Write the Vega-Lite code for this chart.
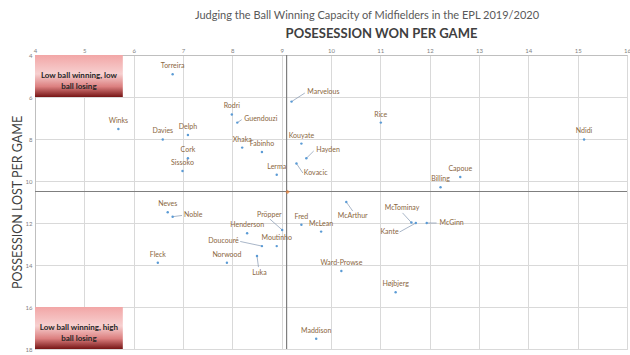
{
  "$schema": "https://vega.github.io/schema/vega-lite/v6.json",
  "autosize": {"type": "none"},
  "width": 592,
  "height": 294,
  "padding": {"left": 35, "top": 55, "right": 3, "bottom": 6},
  "background": "white",
  "title": {"text": "Judging the Ball Winning Capacity of Midfielders in the EPL 2019/2020", "font": "Lato", "fontSize": 11, "fontWeight": "normal", "color": "#595959", "anchor": "middle", "dx": 36, "offset": 6},
  "config": {"view": {"stroke": "#d9d9d9"}, "font": "Lato"},
  "datasets": {
    "players": [
      {"name": "Torreira", "won": 6.79, "lost": 4.92, "pos": "above"},
      {"name": "Marvelous", "won": 9.20, "lost": 6.22, "pos": "left", "lx": 9.52, "ly": 5.78, "ex": 9.47, "ey": 5.81},
      {"name": "Rodri", "won": 7.99, "lost": 6.83, "pos": "above"},
      {"name": "Guendouzi", "won": 8.10, "lost": 7.22, "pos": "left", "lx": 8.24, "ly": 7.06, "ex": 8.19, "ey": 7.08},
      {"name": "Winks", "won": 5.69, "lost": 7.52, "pos": "above"},
      {"name": "Davies", "won": 6.59, "lost": 8.02, "pos": "above"},
      {"name": "Delph", "won": 7.10, "lost": 7.81, "pos": "above"},
      {"name": "Xhaka", "won": 8.20, "lost": 8.41, "pos": "above"},
      {"name": "Fabinho", "won": 8.60, "lost": 8.62, "pos": "above"},
      {"name": "Kouyate", "won": 9.40, "lost": 8.22, "pos": "above"},
      {"name": "Cork", "won": 7.10, "lost": 8.92, "pos": "above"},
      {"name": "Sissoko", "won": 6.99, "lost": 9.52, "pos": "above"},
      {"name": "Lerma", "won": 8.90, "lost": 9.70, "pos": "above"},
      {"name": "Hayden", "won": 9.50, "lost": 8.92, "pos": "left", "lx": 9.70, "ly": 8.52, "ex": 9.65, "ey": 8.57},
      {"name": "Kovacic", "won": 9.30, "lost": 9.17, "pos": "left", "lx": 9.45, "ly": 9.63, "ex": 9.43, "ey": 9.62},
      {"name": "Rice", "won": 11.01, "lost": 7.22, "pos": "above"},
      {"name": "Ndidi", "won": 15.13, "lost": 8.02, "pos": "above"},
      {"name": "Capoue", "won": 12.62, "lost": 9.81, "pos": "above"},
      {"name": "Billing", "won": 12.22, "lost": 10.30, "pos": "above"},
      {"name": "Neves", "won": 6.69, "lost": 11.49, "pos": "above"},
      {"name": "Noble", "won": 6.79, "lost": 11.70, "pos": "left", "lx": 7.02, "ly": 11.62, "ex": 6.98, "ey": 11.64},
      {"name": "Pröpper", "won": 9.01, "lost": 12.33, "pos": "center", "lx": 8.75, "ly": 11.60, "ex": 8.76, "ey": 11.81},
      {"name": "Fred", "won": 9.40, "lost": 12.08, "pos": "above"},
      {"name": "Henderson", "won": 8.30, "lost": 12.49, "pos": "above"},
      {"name": "Doucouré", "won": 8.60, "lost": 13.10, "pos": "right", "lx": 8.13, "ly": 12.87, "ex": 8.16, "ey": 12.88},
      {"name": "Moutinho", "won": 8.90, "lost": 13.10, "pos": "above"},
      {"name": "Fleck", "won": 6.49, "lost": 13.89, "pos": "above"},
      {"name": "Norwood", "won": 7.89, "lost": 13.89, "pos": "above"},
      {"name": "Luka", "won": 8.50, "lost": 13.57, "pos": "center", "lx": 8.55, "ly": 14.37, "ex": 8.53, "ey": 14.10},
      {"name": "Maddison", "won": 9.70, "lost": 17.51, "pos": "above"},
      {"name": "McArthur", "won": 10.31, "lost": 11.00, "pos": "center", "lx": 10.44, "ly": 11.67, "ex": 10.44, "ey": 11.43},
      {"name": "McLean", "won": 9.80, "lost": 12.41, "pos": "above"},
      {"name": "McTominay", "won": 11.63, "lost": 11.98, "pos": "center", "lx": 11.44, "ly": 11.27, "ex": 11.45, "ey": 11.52},
      {"name": "Kante", "won": 11.72, "lost": 12.00, "pos": "right", "lx": 11.37, "ly": 12.44, "ex": 11.39, "ey": 12.43},
      {"name": "McGinn", "won": 11.94, "lost": 12.00, "pos": "left", "lx": 12.20, "ly": 12.01, "ex": 12.14, "ey": 12.00},
      {"name": "Ward-Prowse", "won": 10.21, "lost": 14.29, "pos": "above"},
      {"name": "Højbjerg", "won": 11.31, "lost": 15.30, "pos": "above"}
    ],
    "boxes": [
      {"text": "Low ball winning, low|ball losing", "x1": 4, "x2": 5.78, "y1": 4, "y2": 6, "xc": 4.89, "yc": 5},
      {"text": "Low ball winning, high|ball losing", "x1": 4, "x2": 5.78, "y1": 16, "y2": 18, "xc": 4.89, "yc": 17}
    ]
  },
  "layer": [
    {
      "data": {"name": "boxes"},
      "mark": {"type": "rect", "color": {"gradient": "linear", "x1": 0, "y1": 0, "x2": 0, "y2": 1, "stops": [{"offset": 0, "color": "#f2a6a6"}, {"offset": 0.45, "color": "#f7d0d0"}, {"offset": 0.75, "color": "#dc8080"}, {"offset": 1, "color": "#761515"}]}},
      "encoding": {
        "x": {"field": "x1", "type": "quantitative", "scale": {"domain": [4, 16], "nice": false, "zero": false}, "axis": {"orient": "top", "values": [4,5,6,7,8,9,10,11,12,13,14,15,16], "title": "POSESESSION WON PER GAME", "titleFont": "Lato", "titleFontSize": 13, "titleFontWeight": "bold", "titleColor": "#404040", "titleX": 346, "titleY": -22, "titleBaseline": "middle", "titleAlign": "center", "labelFontSize": 6, "labelColor": "#7f7f7f", "labelPadding": 2, "ticks": false, "grid": true, "gridColor": "#d9d9d9", "domainColor": "#bfbfbf", "labelFlush": false}},
        "x2": {"field": "x2"},
        "y": {"field": "y1", "type": "quantitative", "scale": {"domain": [4, 18], "reverse": true, "nice": false, "zero": false}, "axis": {"values": [4,5,6,7,8,9,10,11,12,13,14,15,16,17,18], "title": "POSSESSION LOST PER GAME", "titleFont": "Lato", "titleFontSize": 12.5, "titleFontWeight": "normal", "titleColor": "#404040", "titleX": -18, "titleY": 147, "titleBaseline": "middle", "titleAlign": "center", "labelFontSize": 6, "labelColor": "#7f7f7f", "labelPadding": 3, "ticks": false, "grid": true, "gridColor": "#d9d9d9", "domainColor": "#bfbfbf", "labelFlush": false}},
        "y2": {"field": "y2"}
      }
    },
    {
      "data": {"name": "boxes"},
      "mark": {"type": "text", "font": "Lato", "fontSize": 8, "fontWeight": "bold", "color": "#262626", "lineBreak": "|", "lineHeight": 11, "baseline": "middle"},
      "encoding": {
        "x": {"field": "xc", "type": "quantitative"},
        "y": {"field": "yc", "type": "quantitative"},
        "text": {"field": "text"}
      }
    },
    {
      "data": {"values": [{"v": 10.5}]},
      "mark": {"type": "rule", "color": "#7f7f7f", "strokeWidth": 1.2},
      "encoding": {"y": {"field": "v", "type": "quantitative"}}
    },
    {
      "data": {"values": [{"v": 9.1}]},
      "mark": {"type": "rule", "color": "#7f7f7f", "strokeWidth": 1.2},
      "encoding": {"x": {"field": "v", "type": "quantitative"}}
    },
    {
      "data": {"values": [{"mx": 9.12, "my": 10.52}]},
      "mark": {"type": "point", "filled": true, "color": "#ed7d31", "size": 18, "shape": "diamond"},
      "encoding": {"x": {"field": "mx", "type": "quantitative"}, "y": {"field": "my", "type": "quantitative"}}
    },
    {
      "data": {"name": "players"},
      "transform": [{"filter": "datum.lx != null"}],
      "mark": {"type": "rule", "color": "#8497b0", "strokeWidth": 0.7},
      "encoding": {
        "x": {"field": "won", "type": "quantitative"},
        "y": {"field": "lost", "type": "quantitative"},
        "x2": {"field": "ex"},
        "y2": {"field": "ey"}
      }
    },
    {
      "data": {"name": "players"},
      "mark": {"type": "point", "filled": true, "color": "#5b9bd5", "size": 6, "opacity": 1},
      "encoding": {
        "x": {"field": "won", "type": "quantitative"},
        "y": {"field": "lost", "type": "quantitative"}
      }
    },
    {
      "data": {"name": "players"},
      "transform": [{"filter": "datum.pos == 'above'"}],
      "mark": {"type": "text", "font": "Lato", "fontSize": 7, "color": "#8a6640", "dy": -8, "baseline": "middle"},
      "encoding": {
        "x": {"field": "won", "type": "quantitative"},
        "y": {"field": "lost", "type": "quantitative"},
        "text": {"field": "name"}
      }
    },
    {
      "data": {"name": "players"},
      "transform": [{"filter": "datum.pos == 'left'"}],
      "mark": {"type": "text", "font": "Lato", "fontSize": 7, "color": "#8a6640", "align": "left", "baseline": "middle"},
      "encoding": {
        "x": {"field": "lx", "type": "quantitative"},
        "y": {"field": "ly", "type": "quantitative"},
        "text": {"field": "name"}
      }
    },
    {
      "data": {"name": "players"},
      "transform": [{"filter": "datum.pos == 'right'"}],
      "mark": {"type": "text", "font": "Lato", "fontSize": 7, "color": "#8a6640", "align": "right", "baseline": "middle"},
      "encoding": {
        "x": {"field": "lx", "type": "quantitative"},
        "y": {"field": "ly", "type": "quantitative"},
        "text": {"field": "name"}
      }
    },
    {
      "data": {"name": "players"},
      "transform": [{"filter": "datum.pos == 'center'"}],
      "mark": {"type": "text", "font": "Lato", "fontSize": 7, "color": "#8a6640", "align": "center", "baseline": "middle"},
      "encoding": {
        "x": {"field": "lx", "type": "quantitative"},
        "y": {"field": "ly", "type": "quantitative"},
        "text": {"field": "name"}
      }
    }
  ]
}
